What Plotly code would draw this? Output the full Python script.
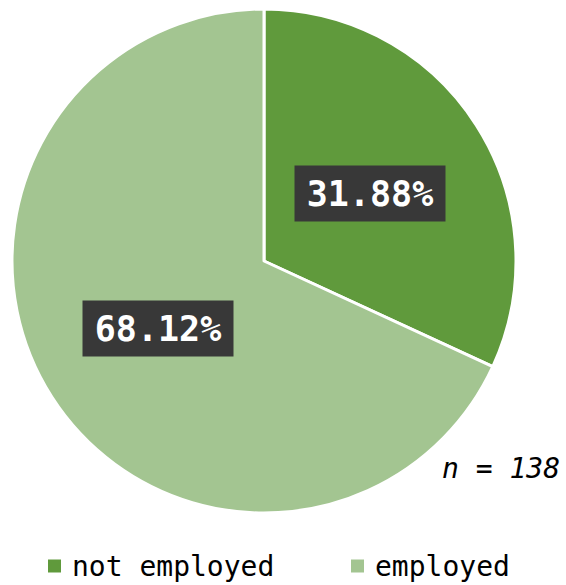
import math
import plotly.graph_objects as go

# Employment status of respondents
categories = ["not employed", "employed"]
counts = [44, 94]
colors = ["#609a3c", "#a3c591"]

total = sum(counts)
shares = [c / total * 100 for c in counts]

W, H = 566, 585
# pie placement in pixels (centre and radius)
cx, cy, R = 264, 261, 252

fig = go.Figure(go.Pie(
    labels=categories,
    values=counts,
    marker=dict(colors=colors, line=dict(color="white", width=3)),
    sort=False,
    direction="clockwise",
    rotation=0,
    textinfo="none",
    hoverinfo="label+percent",
    showlegend=False,
    domain=dict(x=[(cx - R) / W, (cx + R) / W],
                y=[1 - (cy + R) / H, 1 - (cy - R) / H]),
))

# percentage labels in dark boxes at half radius along each slice's mid angle
annotations = []
start = 0.0
for share in shares:
    sweep = share / 100 * 360
    mid = math.radians(start + sweep / 2)
    px = cx + 0.5 * R * math.sin(mid)
    py = cy - 0.5 * R * math.cos(mid)
    annotations.append(dict(
        x=px / W, y=1 - py / H, xref="paper", yref="paper",
        text=f"<b>{share:.2f}%</b>", showarrow=False,
        font=dict(family="DejaVu Sans Mono", size=35, color="white"),
        bgcolor="#383838", width=150, height=55, borderpad=0,
        xanchor="center", yanchor="middle",
    ))
    start += sweep

annotations.append(dict(
    x=501 / W, y=1 - 468 / H, xref="paper", yref="paper",
    text=f"<i>n = {total}</i>", showarrow=False,
    font=dict(family="DejaVu Sans Mono", size=28, color="black"),
    xanchor="center", yanchor="middle",
))

# legend row along the bottom: a colour square followed by the category name
legend_x = [48, 351]   # left edge of each swatch, px
legend_y = 566         # row centre, px
sw = 13                # swatch size, px
shapes = []
for lx, name, col in zip(legend_x, categories, colors):
    shapes.append(dict(
        type="rect", xref="paper", yref="paper",
        x0=lx / W, x1=(lx + sw) / W,
        y0=1 - (legend_y + sw / 2) / H, y1=1 - (legend_y - sw / 2) / H,
        fillcolor=col, line=dict(width=0),
    ))
    annotations.append(dict(
        x=(lx + sw + 9) / W, y=1 - legend_y / H, xref="paper", yref="paper",
        text=name, showarrow=False,
        font=dict(family="DejaVu Sans Mono", size=28, color="black"),
        xanchor="left", yanchor="middle",
    ))

fig.update_layout(
    width=W, height=H,
    margin=dict(l=0, r=0, t=0, b=0),
    paper_bgcolor="white",
    plot_bgcolor="white",
    showlegend=False,
    annotations=annotations,
    shapes=shapes,
)

fig.write_html("out.html")
